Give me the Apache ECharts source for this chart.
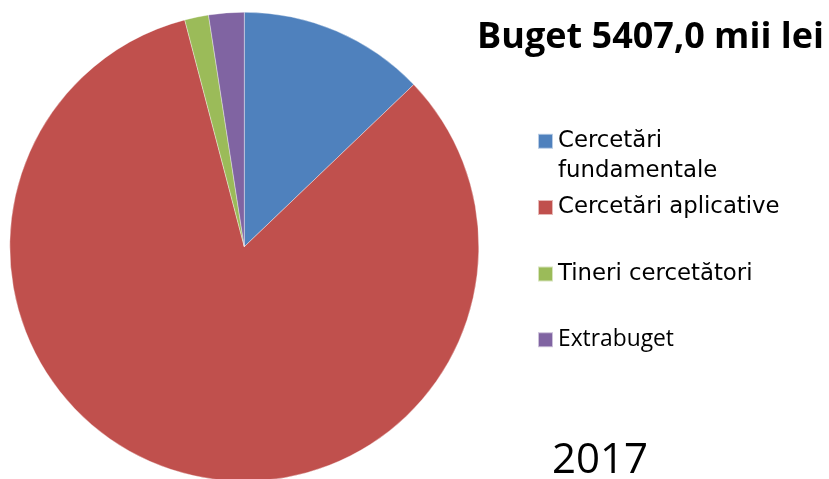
<!DOCTYPE html>
<html>
<head>
<meta charset="utf-8">
<script src="https://cdn.jsdelivr.net/npm/echarts@6/dist/echarts.min.js"></script>
<style>
  html, body { margin: 0; padding: 0; background: #fff; }
  #chart { width: 829px; height: 479px; }
</style>
</head>
<body>
<div id="chart"></div>
<script>
const categories = ['Cercetări fundamentale', 'Cercetări aplicative', 'Tineri cercetători', 'Extrabuget'];
const legendLabels = [' \nCercetări\nfundamentale', 'Cercetări aplicative', 'Tineri cercetători', 'Extrabuget'];
const values = [695, 4491, 89, 132];
const colors = ['#4F81BD', '#C0504D', '#9BBB59', '#8064A2'];
const titleText = 'Buget 5407,0 mii lei';
const yearText = '2017';

const chart = echarts.init(document.getElementById('chart'), null, { renderer: 'canvas' });

const iconCenters = [141.3, 207.5, 274, 339.7];
const legends = categories.map((name, i) => {
  const isCalibri = i === 3;
  const lines = i === 0 ? 3 : 1;
  const lh = 30;
  return {
    data: [name],
    left: 537,
    top: iconCenters[i] - (lines * lh) / 2,
    orient: 'vertical',
    padding: 0,
    itemWidth: 15,
    itemHeight: 15,
    itemGap: 0,
    icon: 'rect',
    selectedMode: false,
    formatter: function () { return legendLabels[i]; },
    textStyle: {
      color: '#000',
      fontFamily: isCalibri ? 'Open Sans' : 'DejaVu Sans',
      fontSize: isCalibri ? 22.8 : 22.8,
      lineHeight: lh
    }
  };
});

chart.setOption({
  animation: false,
  backgroundColor: '#fff',
  color: colors,
  title: [
    {
      text: titleText,
      right: 5,
      top: 20,
      padding: 0,
      textStyle: { fontFamily: 'Open Sans', fontWeight: 'bold', fontSize: 36, color: '#000' }
    },
    {
      text: yearText,
      left: 552,
      top: 440,
      padding: 0,
      textStyle: { fontFamily: 'Open Sans', fontWeight: 'normal', fontSize: 42, color: '#000' }
    }
  ],
  legend: legends,
  series: [{
    type: 'pie',
    center: [244.3, 246.7],
    radius: 234.5,
    startAngle: 90,
    clockwise: true,
    label: { show: false },
    labelLine: { show: false },
    emphasis: { disabled: true },
    itemStyle: { borderColor: 'rgba(255,255,255,0.6)', borderWidth: 0.6 },
    data: categories.map((n, i) => ({ name: n, value: values[i] }))
  }]
});
</script>
</body>
</html>
